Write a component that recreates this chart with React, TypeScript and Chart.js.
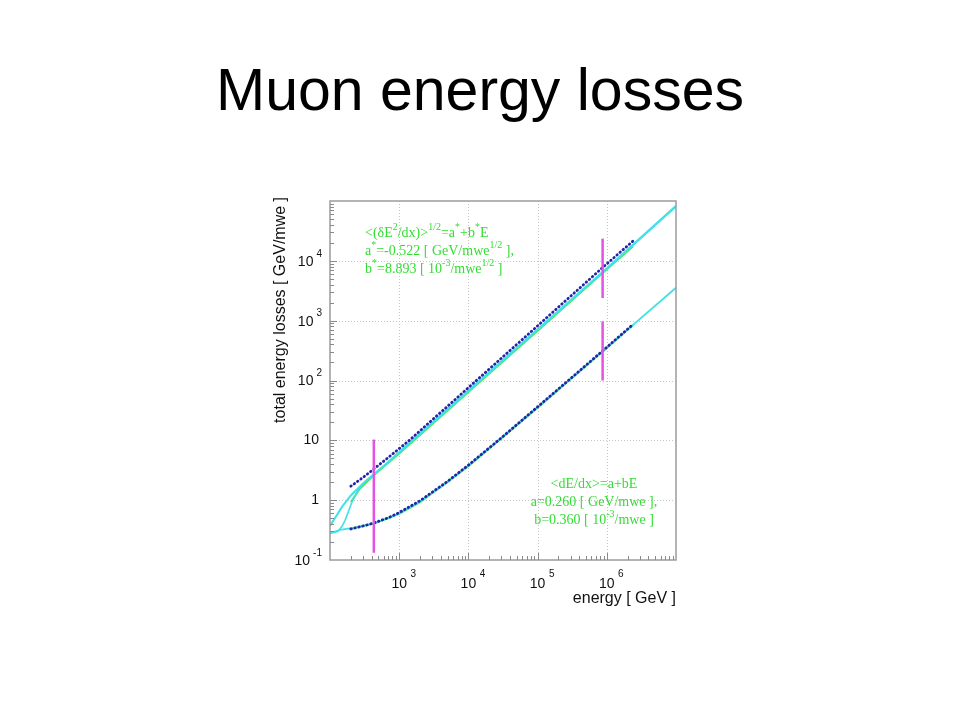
import { useEffect, useRef } from "react";
import { Chart, registerables } from "chart.js";

Chart.register(...registerables);

// ---- data ----
// energy in GeV, losses in GeV/mwe
const upperFitEnergy = [200, 300, 420, 700, 1400, 10000, 100000, 870000, 2400000];
const upperFitValues = [1.71, 2.4, 3.25, 5.2, 10, 76, 820, 7730, 21500];

const upperCyanAEnergy = [100, 120, 150, 200, 300, 420, 700, 1000, 10000, 100000, 1000000, 10000000];
const upperCyanAValues = [0.37, 0.52, 0.78, 1.2, 1.9, 2.65, 4.4, 6.4, 68, 720, 7500, 83000];

const upperCyanBEnergy = [100, 130, 150, 165, 185, 205, 240, 270, 330, 420, 1000, 10000, 100000, 1000000, 10000000];
const upperCyanBValues = [0.28, 0.3, 0.37, 0.46, 0.65, 0.9, 1.3, 1.6, 2.1, 2.6, 6.2, 66, 700, 7300, 80000];

const upperGreenEnergy = [200, 270, 420, 1000, 10000, 100000, 1000000, 2400000];
const upperGreenValues = [0.93, 1.55, 2.55, 6.0, 64, 680, 7200, 17500];

const lowerFitEnergy = [200, 300, 430, 700, 1000, 2000, 5000, 10000, 30000, 100000, 300000, 1000000, 2400000];
const lowerFitValues = [0.33, 0.37, 0.415, 0.51, 0.62, 0.98, 2.06, 3.86, 11, 36.3, 108, 360, 870];

const lowerCyanEnergy = [100, 120, 140, 215, 430, 700, 1000, 2000, 5000, 10000, 100000, 1000000, 10000000];
const lowerCyanValues = [0.28, 0.3, 0.32, 0.345, 0.41, 0.5, 0.6, 0.95, 2.0, 3.8, 36, 355, 3550];

const lowerGreenEnergy = [200, 430, 1000, 2000, 10000, 100000, 1000000, 2400000];
const lowerGreenValues = [0.33, 0.405, 0.59, 0.93, 3.7, 35, 350, 850];

// vertical magenta markers: [energy, low, high]
const markerEnergy = [430, 870000, 870000];
const markerLow = [0.132, 2390, 100];
const markerHigh = [10.3, 23500, 973];

const xRange = [100, 1e7];
const yRange = [0.1, 1e5];
const xTickExponents = [3, 4, 5, 6];
const yTickExponents = [-1, 0, 1, 2, 3, 4];

const titleText = "Muon energy losses";
const xTitle = "energy [ GeV ]";
const yTitle = "total energy losses [ GeV/mwe ]";

type Seg = [string, boolean];
const upperNote: Seg[][] = [
  [["<(δE", false], ["2", true], ["/dx)>", false], ["1/2", true], ["=a", false], ["*", true], ["+b", false], ["*", true], ["E", false]],
  [["a", false], ["*", true], ["=-0.522 [ GeV/mwe", false], ["1/2", true], [" ],", false]],
  [["b", false], ["*", true], ["=8.893 [ 10", false], ["-3", true], ["/mwe", false], ["1/2", true], [" ]", false]],
];
const lowerNote: Seg[][] = [
  [["<dE/dx>=a+bE", false]],
  [["a=0.260 [ GeV/mwe ],", false]],
  [["b=0.360 [ 10", false], ["-3", true], ["/mwe ]", false]],
];

const SANS = '"Liberation Sans", Arial, Helvetica, sans-serif';
const SERIF = '"Liberation Serif", "Times New Roman", serif';

const CYAN = "#40e2e6";
const GREEN = "#48e848";
const BLUE = "#2424a8";
const MAGENTA = "#e452e4";
const NOTE_GREEN = "#33dd33";

function pts(xs: number[], ys: number[]) {
  return xs.map((x, i) => ({ x, y: ys[i] }));
}

function drawRich(ctx: CanvasRenderingContext2D, segs: Seg[], x: number, y: number, size: number, align: "left" | "center") {
  const supSize = Math.round(size * 0.68);
  const widths = segs.map(([t, s]) => {
    ctx.font = `${s ? supSize : size}px ${SERIF}`;
    return ctx.measureText(t).width;
  });
  const total = widths.reduce((a, b) => a + b, 0);
  let cx = align === "center" ? x - total / 2 : x;
  ctx.textAlign = "left";
  ctx.textBaseline = "middle";
  segs.forEach(([t, s], i) => {
    ctx.font = `${s ? supSize : size}px ${SERIF}`;
    ctx.fillText(t, cx, s ? y - size * 0.42 : y);
    cx += widths[i];
  });
}

const framePlugin = {
  id: "framePlugin",
  beforeDatasetsDraw(chart: any) {
    const { ctx, chartArea } = chart;
    const xs = chart.scales.x;
    const ys = chart.scales.y;
    ctx.save();
    ctx.strokeStyle = "#c4c4c4";
    ctx.lineWidth = 1;
    ctx.setLineDash([1, 2]);
    for (let n = 3; n <= 6; n++) {
      const px = Math.round(xs.getPixelForValue(10 ** n)) + 0.5;
      ctx.beginPath();
      ctx.moveTo(px, chartArea.top);
      ctx.lineTo(px, chartArea.bottom);
      ctx.stroke();
    }
    for (let n = 0; n <= 4; n++) {
      const py = Math.round(ys.getPixelForValue(10 ** n)) + 0.5;
      ctx.beginPath();
      ctx.moveTo(chartArea.left, py);
      ctx.lineTo(chartArea.right, py);
      ctx.stroke();
    }
    ctx.restore();
  },
  afterDraw(chart: any) {
    const { ctx, chartArea } = chart;
    const { left, right, top, bottom } = chartArea;
    const xs = chart.scales.x;
    const ys = chart.scales.y;
    ctx.save();
    // frame
    ctx.strokeStyle = "#9c9c9c";
    ctx.lineWidth = 1.5;
    ctx.strokeRect(left, top, right - left, bottom - top);
    // tick marks (inside)
    ctx.lineWidth = 1;
    ctx.strokeStyle = "#8a8a8a";
    for (let n = 2; n <= 6; n++) {
      for (let k = 1; k <= 9; k++) {
        const v = k * 10 ** n;
        if (v <= xRange[0] || v >= xRange[1]) continue;
        const px = Math.round(xs.getPixelForValue(v)) + 0.5;
        const len = k === 1 ? 7 : 4;
        ctx.beginPath();
        ctx.moveTo(px, bottom);
        ctx.lineTo(px, bottom - len);
        ctx.stroke();
      }
    }
    for (let n = -1; n <= 4; n++) {
      for (let k = 1; k <= 9; k++) {
        const v = k * 10 ** n;
        if (v <= yRange[0] * 1.0001 || v >= yRange[1]) continue;
        const py = Math.round(ys.getPixelForValue(v)) + 0.5;
        const len = k === 1 ? 7 : 4;
        ctx.beginPath();
        ctx.moveTo(left, py);
        ctx.lineTo(left + len, py);
        ctx.stroke();
      }
    }
    // tick labels
    ctx.fillStyle = "#111";
    ctx.textBaseline = "middle";
    for (const n of xTickExponents) {
      const px = xs.getPixelForValue(10 ** n);
      ctx.font = `14px ${SANS}`;
      const w10 = ctx.measureText("10").width;
      ctx.textAlign = "center";
      ctx.fillText("10", px, bottom + 24);
      ctx.font = `10px ${SANS}`;
      ctx.textAlign = "left";
      ctx.fillText(String(n), px + w10 / 2 + 3.5, bottom + 14);
    }
    for (const n of yTickExponents) {
      const py = ys.getPixelForValue(10 ** n);
      if (n === 0 || n === 1) {
        ctx.font = `14px ${SANS}`;
        ctx.textAlign = "right";
        ctx.fillText(n === 0 ? "1" : "10", left - 11, py);
      } else {
        const exp = String(n);
        ctx.font = `10px ${SANS}`;
        const ew = ctx.measureText(exp).width;
        const rightEdge = left - 8;
        ctx.textAlign = "left";
        ctx.fillText(exp, rightEdge - ew, py - 7);
        ctx.font = `14px ${SANS}`;
        ctx.textAlign = "right";
        ctx.fillText("10", rightEdge - ew - 3, py + 1);
      }
    }
    // axis titles
    ctx.font = `16px ${SANS}`;
    ctx.textAlign = "right";
    ctx.fillText(xTitle, right, bottom + 39);
    ctx.save();
    ctx.translate(left - 49, top - 4);
    ctx.rotate(-Math.PI / 2);
    ctx.textAlign = "right";
    ctx.fillText(yTitle, 0, 0);
    ctx.restore();
    // annotations
    ctx.fillStyle = NOTE_GREEN;
    upperNote.forEach((line, i) => drawRich(ctx, line, left + 35, top + 32 + i * 18, 14, "left"));
    lowerNote.forEach((line, i) => drawRich(ctx, line, left + 264, bottom - 76 + i * 18, 14, "center"));
    ctx.restore();
  },
};

export default function App() {
  const canvasRef = useRef<HTMLCanvasElement | null>(null);

  useEffect(() => {
    if (!canvasRef.current) return;
    const markers = markerEnergy.map((e, i) => ({
      data: [{ x: e, y: markerLow[i] }, { x: e, y: markerHigh[i] }],
      borderColor: MAGENTA,
      borderWidth: 2.5,
    }));
    const chart = new Chart(canvasRef.current, {
      type: "line",
      data: {
        datasets: [
          ...markers,
          { data: pts(upperFitEnergy, upperFitValues), borderColor: BLUE, borderWidth: 2.8, borderDash: [0.5, 3.6], borderCapStyle: "round" },
          { data: pts(lowerFitEnergy, lowerFitValues), borderColor: BLUE, borderWidth: 2.8, borderDash: [0.5, 3.6], borderCapStyle: "round" },
          { data: pts(upperCyanAEnergy, upperCyanAValues), borderColor: CYAN, borderWidth: 2 },
          { data: pts(upperCyanBEnergy, upperCyanBValues), borderColor: CYAN, borderWidth: 1.6 },
          { data: pts(lowerCyanEnergy, lowerCyanValues), borderColor: CYAN, borderWidth: 1.8 },
          { data: pts(upperGreenEnergy, upperGreenValues), borderColor: GREEN, borderWidth: 2 },
          { data: pts(lowerGreenEnergy, lowerGreenValues), borderColor: GREEN, borderWidth: 2 },
        ] as any,
      },
      options: {
        responsive: false,
        animation: false,
        layout: { padding: { left: 330, top: 201, right: 284, bottom: 160 } },
        elements: { point: { radius: 0, hoverRadius: 0 }, line: { tension: 0, fill: false } },
        plugins: { legend: { display: false }, title: { display: false }, tooltip: { enabled: false } },
        events: [],
        scales: {
          x: {
            type: "logarithmic",
            min: xRange[0],
            max: xRange[1],
            grid: { display: false, drawTicks: false },
            border: { display: false },
            ticks: { display: false },
          },
          y: {
            type: "logarithmic",
            min: yRange[0],
            max: yRange[1],
            grid: { display: false, drawTicks: false },
            border: { display: false },
            ticks: { display: false },
          },
        },
      },
      plugins: [framePlugin],
    });
    return () => chart.destroy();
  }, []);

  return (
    <div style={{ position: "fixed", left: 0, top: 0, width: 960, height: 720, background: "#fff" }}>
      <div
        style={{
          position: "absolute",
          left: 0,
          top: 61,
          width: 960,
          textAlign: "center",
          fontFamily: SANS,
          fontSize: 59,
          lineHeight: "59px",
          color: "#000",
          whiteSpace: "nowrap",
        }}
      >
        {titleText}
      </div>
      <canvas ref={canvasRef} width={960} height={720} style={{ position: "absolute", left: 0, top: 0 }} />
    </div>
  );
}
